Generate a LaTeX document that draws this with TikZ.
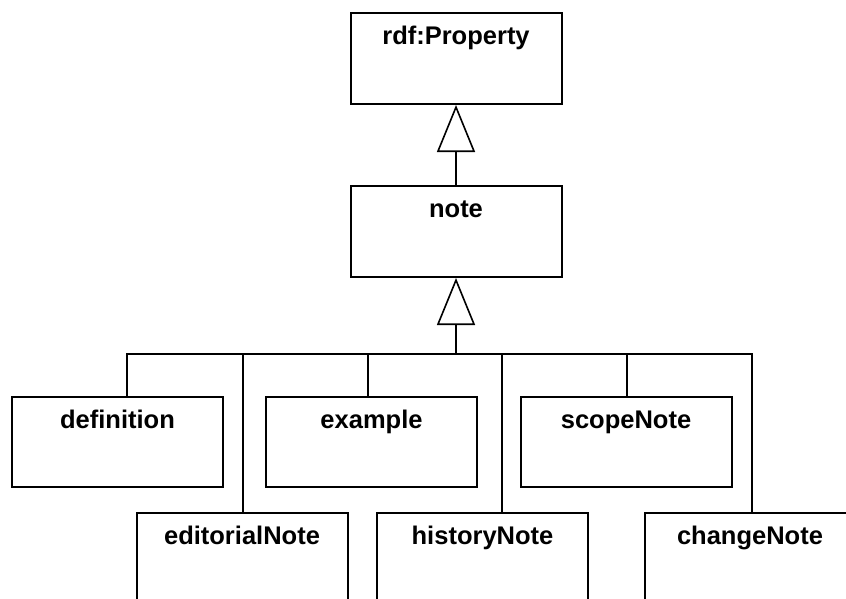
\documentclass[tikz,border=0pt]{standalone}
\usepackage{fontspec}
\setmainfont{Liberation Sans}
\usetikzlibrary{arrows.meta}
\tikzset{
  cls/.style={draw, line width=2pt, rectangle, inner sep=0pt, anchor=north,
    minimum width=211pt, text height=31pt,
    font=\fontsize{25.5}{30}\selectfont\bfseries},
  wire/.style={line width=2pt},
  inherit/.style={line width=2pt,
    -{Triangle[open, length=47pt, width=38pt, line width=1.6pt]}},
}
\begin{document}
\begin{tikzpicture}[x=1pt, y=-1pt]
  \clip (0,0) rectangle (846,598);
  \fill[white] (0,0) rectangle (846,598);

  % classes
  \node[cls, text depth=60pt] (prop) at (456,12) {rdf:Property};
  \node[cls, text depth=60pt] (note) at (456,185) {note};

  \node[cls, text depth=59pt] (definition) at (117.5,396) {definition};
  \node[cls, text depth=59pt] (example) at (371.5,396) {example};
  \node[cls, text depth=59pt] (scope) at (626,396) {scopeNote};

  \node[cls, text depth=80pt] (editorial) at (242,512) {editorialNote};
  \node[cls, text depth=80pt] (history) at (482.5,512) {historyNote};
  \node[cls, text depth=80pt] (change) at (750,512) {changeNote};

  % generalisation note -> rdf:Property
  \draw[inherit] (note.north) -- (prop.south);

  % shared bus from the subproperties up to note
  \coordinate (hub) at (456,354);
  \draw[inherit] (hub) -- (note.south);

  \coordinate (cDef) at ([xshift=9.5pt]definition.north);
  \coordinate (cEx) at ([xshift=-3.5pt]example.north);
  \coordinate (cSc) at ([xshift=1pt]scope.north);
  \coordinate (cEd) at ([xshift=1pt]editorial.north);
  \coordinate (cHi) at ([xshift=19.5pt]history.north);
  \coordinate (cCh) at ([xshift=2pt]change.north);

  \draw[wire] (cDef) |- (hub) -| (cCh);
  \draw[wire] (cEd) -- (cEd |- hub);
  \draw[wire] (cEx) -- (cEx |- hub);
  \draw[wire] (cHi) -- (cHi |- hub);
  \draw[wire] (cSc) -- (cSc |- hub);
\end{tikzpicture}
\end{document}
